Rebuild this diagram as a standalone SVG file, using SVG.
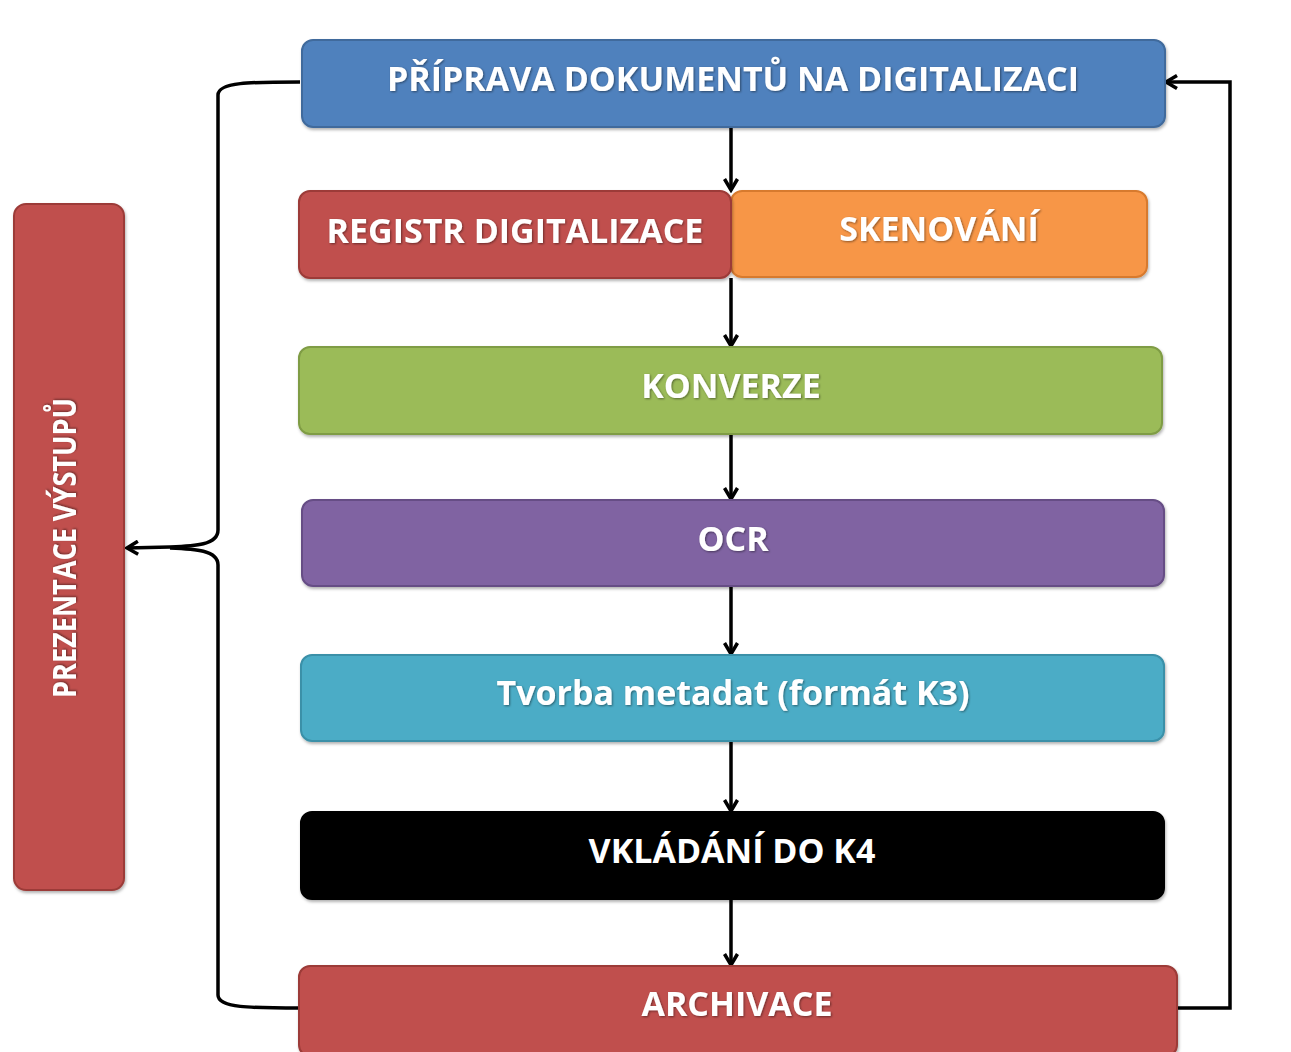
<svg xmlns="http://www.w3.org/2000/svg" width="1291" height="1052" viewBox="0 0 1291 1052">
<style>
.box{stroke-width:2}
.t{font-family:"Open Sans","DejaVu Sans",sans-serif;font-weight:bold;font-size:34px;fill:#fff;text-anchor:middle;dominant-baseline:central}
.c{fill:none;stroke:#000;stroke-width:3.5}
</style>
<defs>
<filter id="sh" x="-5%" y="-10%" width="110%" height="130%"><feDropShadow dx="1" dy="2" stdDeviation="1.5" flood-color="#000" flood-opacity="0.3"/></filter>
<filter id="ts"><feDropShadow dx="1" dy="1" stdDeviation="0.8" flood-color="#000" flood-opacity="0.45"/></filter>
<marker id="ar" viewBox="0 0 16 16" refX="13" refY="8" markerWidth="16" markerHeight="16" markerUnits="userSpaceOnUse" orient="auto">
<path d="M2,1.5 L13,8 L2,14.5" fill="none" stroke="#000" stroke-width="3.5" stroke-linejoin="miter"/>
</marker>
</defs>
<g id="connectors">
<path class="c" d="M731,127 V190" marker-end="url(#ar)"/>
<path class="c" d="M731,278 V346" marker-end="url(#ar)"/>
<path class="c" d="M731,434 V499" marker-end="url(#ar)"/>
<path class="c" d="M731,586 V654" marker-end="url(#ar)"/>
<path class="c" d="M731,741 V811" marker-end="url(#ar)"/>
<path class="c" d="M731,899 V965" marker-end="url(#ar)"/>
<path class="c" d="M1177,1008 H1230 V82 H1166" marker-end="url(#ar)"/>
<path class="c" d="M300,82 C250,82 218,82 218,95 V530 C218,545 195,546 170,547 L127,548"  marker-end="url(#ar)"/>
<path class="c" d="M300,1008 C250,1008 218,1008 218,995 V565 C218,550 195,549 170,548"/>
</g>
<g id="n-priprava"><rect class="box" x="302" y="40" width="863" height="87" rx="11" fill="#4f81bd" stroke="#3f6a9c" filter="url(#sh)"/><text class="t" x="733" y="78" filter="url(#ts)">PŘÍPRAVA DOKUMENTŮ NA DIGITALIZACI</text></g>
<g id="n-skenovani"><rect class="box" x="731" y="191" width="416" height="86" rx="11" fill="#f79646" stroke="#d77a2e" filter="url(#sh)"/><text class="t" x="939" y="228" filter="url(#ts)">SKENOVÁNÍ</text></g>
<g id="n-registr"><rect class="box" x="299" y="191" width="432" height="87" rx="11" fill="#c0504d" stroke="#9c3b38" filter="url(#sh)"/><text class="t" x="515" y="230" filter="url(#ts)">REGISTR DIGITALIZACE</text></g>
<g id="n-konverze"><rect class="box" x="299" y="347" width="863" height="87" rx="11" fill="#9bbb59" stroke="#7f9c44" filter="url(#sh)"/><text class="t" x="731" y="385" filter="url(#ts)">KONVERZE</text></g>
<g id="n-ocr"><rect class="box" x="302" y="500" width="862" height="86" rx="11" fill="#8064a2" stroke="#664d85" filter="url(#sh)"/><text class="t" x="733" y="538" filter="url(#ts)">OCR</text></g>
<g id="n-tvorba"><rect class="box" x="301" y="655" width="863" height="86" rx="11" fill="#4bacc6" stroke="#3a90a8" filter="url(#sh)"/><text class="t" x="733" y="692" filter="url(#ts)">Tvorba metadat (formát K3)</text></g>
<g id="n-vkladani"><rect class="box" x="301" y="812" width="863" height="87" rx="11" fill="#000" stroke="#000" filter="url(#sh)"/><text class="t" x="732" y="850">VKLÁDÁNÍ DO K4</text></g>
<g id="n-archivace"><rect class="box" x="299" y="966" width="878" height="90" rx="11" fill="#c0504d" stroke="#9c3b38" filter="url(#sh)"/><text class="t" x="737" y="1003" filter="url(#ts)">ARCHIVACE</text></g>
<g id="n-prezentace"><rect class="box" x="14" y="204" width="110" height="686" rx="12" fill="#c0504d" stroke="#9c3b38" filter="url(#sh)"/><text class="t" transform="translate(63,548) rotate(-90)" x="0" y="0" style="font-size:32px" textLength="300" lengthAdjust="spacingAndGlyphs" filter="url(#ts)">PREZENTACE VÝSTUPŮ</text></g>
</svg>
